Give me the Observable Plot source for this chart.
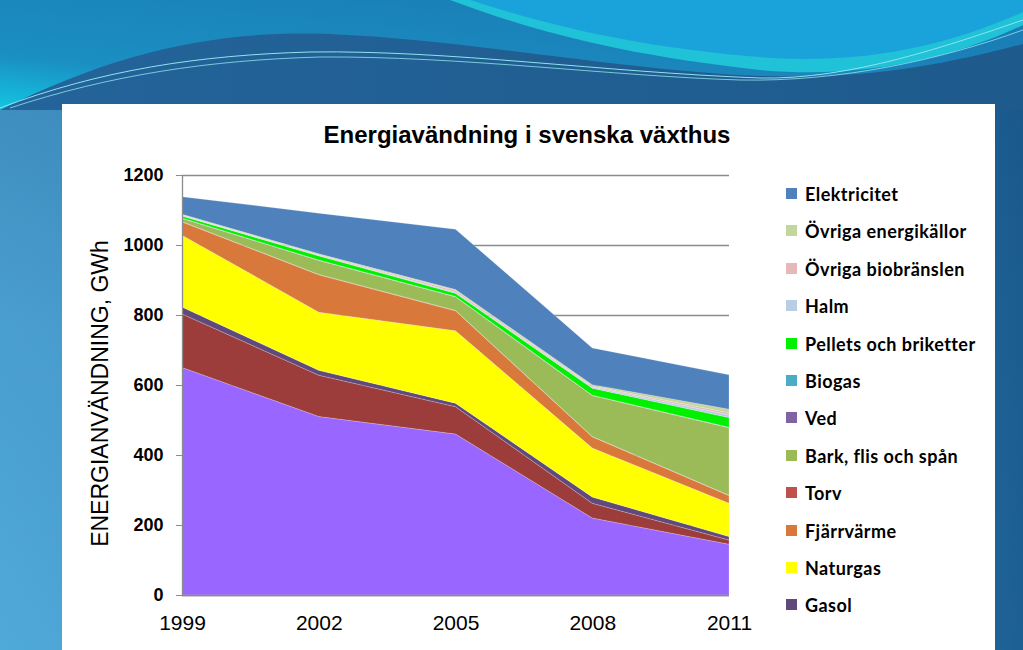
<!DOCTYPE html>
<html>
<head>
<meta charset="utf-8">
<script src="https://cdn.jsdelivr.net/npm/d3@7"></script>
<script src="https://cdn.jsdelivr.net/npm/@observablehq/plot@0.6"></script>
<style>
  html, body { margin: 0; padding: 0; }
  body { width: 1023px; height: 650px; position: relative; overflow: hidden;
         background:
           linear-gradient(to bottom, rgba(20,70,120,0.35) 0%, rgba(20,70,120,0.1) 50%, rgba(20,70,120,0) 100%),
           linear-gradient(to right, #4fa9d9 0%, #3f93c8 45%, #2a74a8 85%, #1d5f92 100%); }
  #banner { position: absolute; left: 0; top: 0; }
  #panel { position: absolute; left: 62px; top: 104px; width: 933px; height: 546px; background: #ffffff; }
  #chart { position: absolute; left: 0; top: 0; }
  #title { position: absolute; left: 62px; width: 930px; top: 121px; text-align: center;
           font-family: "Liberation Sans", Arial, sans-serif; font-weight: bold; font-size: 24px; color: #000; }
  #legend { position: absolute; left: 786px; top: 183px; font-family: Lato, "Open Sans", sans-serif;
            font-weight: bold; font-size: 18px; letter-spacing: 0.45px; color: #000; }
  .item { height: 37.4px; display: flex; align-items: flex-start; white-space: nowrap; }
  .sw { width: 11px; height: 11px; margin-right: 8px; margin-top: 5px; flex: none; }
</style>
</head>
<body>
<svg id="banner" width="1023" height="110" viewBox="0 0 1023 110">
  <defs>
    <linearGradient id="gTop" x1="0" y1="1" x2="1" y2="0">
      <stop offset="0" stop-color="#12c6e2"/>
      <stop offset="0.25" stop-color="#1a8fc2"/>
      <stop offset="1" stop-color="#1a78b2"/>
    </linearGradient>
    <linearGradient id="gWave" x1="0" y1="0" x2="1" y2="0">
      <stop offset="0" stop-color="#24649a"/>
      <stop offset="1" stop-color="#1e5a8c"/>
    </linearGradient>
  </defs>
  <rect x="0" y="0" width="1023" height="110" fill="url(#gTop)"/>
  <path d="M0,110 C120,50 220,30 330,34 C470,40 620,70 760,76 C880,80 960,60 1023,44 L1023,110 Z" fill="url(#gWave)"/>
  <path d="M450,0 C530,30 620,55 760,70 C870,80 960,55 1023,25 L1023,0 Z" fill="#20c2d8"/>
  <path d="M470,0 C550,26 640,48 770,58 C880,64 960,40 1023,12 L1023,0 Z" fill="#1aa3da"/>
  <path d="M0,108 C100,70 200,55 310,52 C450,50 600,72 760,78 C850,80 950,45 1023,20" fill="none" stroke="#8fe3ee" stroke-width="1"/>
  <path d="M10,108 C110,75 210,60 320,57 C460,56 610,76 740,80 C840,82 940,60 1023,30" fill="none" stroke="#8fe3ee" stroke-width="0.8"/>
</svg>
<div id="panel"></div>
<div id="chart"></div>
<div id="title">Energiavändning i svenska växthus</div>
<div id="legend"></div>
<script>
// ---- data (GWh) ----
const years = [1999, 2002, 2005, 2008, 2011];
const yTicks = [0, 200, 400, 600, 800, 1000, 1200];

// series, bottom of stack to top
const eldningsolja1   = [650, 510, 460, 220, 145];
const eldningsolja25  = [153, 118,  78,  42,  12];
const gasol           = [ 20,  14,  10,  18,  10];
const naturgas        = [205, 166, 207, 140,  95];
const fjarrvarme      = [ 38, 107,  57,  32,  22];
const torv            = [  1,   1,   1,   1,   1];
const bark            = [  9,  40,  39, 117, 193];
const ved             = [  1,   1,   1,   1,   1];
const biogas          = [  0,   0,   0,   0,   0];
const pellets         = [  6,  12,   9,  20,  28];
const halm            = [  1,   1,   3,   3,   8];
const ovrigaBio       = [  2,   2,   5,   3,   6];
const ovrigaEnergi    = [  2,   3,   3,   4,  10];
const elektricitet    = [ 50, 116, 172, 105,  98];

const seriesNames = ["Eldningsolja 1", "Eldningsolja 2-5", "Gasol", "Naturgas", "Fjärrvärme", "Torv",
  "Bark, flis och spån", "Ved", "Biogas", "Pellets och briketter", "Halm",
  "Övriga biobränslen", "Övriga energikällor", "Elektricitet"];
const seriesValues = [eldningsolja1, eldningsolja25, gasol, naturgas, fjarrvarme, torv,
  bark, ved, biogas, pellets, halm, ovrigaBio, ovrigaEnergi, elektricitet];
const seriesColors = ["#9966ff", "#9c3d3b", "#604a7b", "#ffff00", "#d8793b", "#c0504d",
  "#9bbb59", "#8064a2", "#4bacc6", "#00f000", "#b9cde5",
  "#e6b9b8", "#c3d69b", "#4f81bd"];
// legend as visible in the reference (top to bottom)
const legendNames = ["Elektricitet", "Övriga energikällor", "Övriga biobränslen", "Halm",
  "Pellets och briketter", "Biogas", "Ved", "Bark, flis och spån", "Torv", "Fjärrvärme", "Naturgas", "Gasol"];

const rows = [];
seriesNames.forEach((s, i) => years.forEach((y, j) => rows.push({series: s, year: y, value: seriesValues[i][j]})));

const plot = Plot.plot({
  width: 1023,
  height: 650,
  marginLeft: 182,
  marginRight: 294,
  marginTop: 175,
  marginBottom: 55,
  style: {background: "transparent", fontFamily: "Liberation Sans, Arial, sans-serif", color: "#000"},
  x: {type: "linear", domain: [1999, 2011]},
  y: {domain: [0, 1200]},
  color: {domain: seriesNames, range: seriesColors},
  marks: [
    Plot.gridY(yTicks, {stroke: "#8c8c8c", strokeOpacity: 1, strokeWidth: 1.3}),
    Plot.areaY(rows, {x: "year", y: "value", z: "series", fill: "series", order: seriesNames,
                      stroke: "#ffffff", strokeOpacity: 0.35, strokeWidth: 0.6}),
    Plot.ruleX([1999], {stroke: "#8c8c8c", strokeWidth: 1.3}),
    Plot.ruleY([0], {stroke: "#8c8c8c", strokeWidth: 1.3}),
    Plot.axisY(yTicks, {tickSize: 6, tickPadding: 13, fontSize: 18, fontWeight: "bold", stroke: "#8c8c8c",
                        tickFormat: d => String(d), label: null}),
    Plot.axisX(years, {tickSize: 0, tickPadding: 20, fontSize: 21, tickFormat: d => String(d), label: null}),
    Plot.text(["ENERGIANVÄNDNING, GWh"], {frameAnchor: "left", textAnchor: "middle", dx: -82, dy: 8, rotate: -90, fontSize: 23})
  ]
});
document.getElementById("chart").appendChild(plot);

const leg = document.getElementById("legend");
legendNames.forEach(n => {
  const it = document.createElement("div");
  it.className = "item";
  const sw = document.createElement("span");
  sw.className = "sw";
  sw.style.background = seriesColors[seriesNames.indexOf(n)];
  const t = document.createElement("span");
  t.textContent = n;
  it.appendChild(sw); it.appendChild(t);
  leg.appendChild(it);
});
</script>
</body>
</html>
